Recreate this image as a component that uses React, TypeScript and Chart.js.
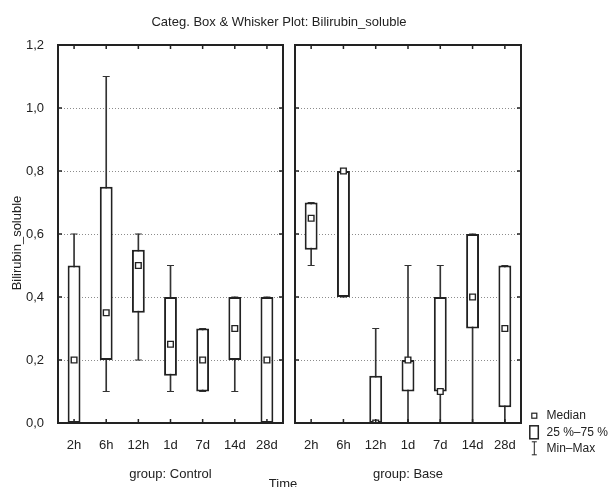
import React, { useEffect, useRef } from 'react';
import { Chart, registerables } from 'chart.js';

Chart.register(...registerables);

// ---------- data ----------
const categories = ['2h', '6h', '12h', '1d', '7d', '14d', '28d'];
const yTickLabels = ['0,0', '0,2', '0,4', '0,6', '0,8', '1,0', '1,2'];
const yTitle = 'Bilirubin_soluble';

const controlMin = [0, 0.1, 0.2, 0.1, 0.1, 0.1, 0];
const controlQ1 = [0, 0.2, 0.35, 0.15, 0.1, 0.2, 0];
const controlMedian = [0.2, 0.35, 0.5, 0.25, 0.2, 0.3, 0.2];
const controlQ3 = [0.5, 0.75, 0.55, 0.4, 0.3, 0.4, 0.4];
const controlMax = [0.6, 1.1, 0.6, 0.5, 0.3, 0.4, 0.4];

const baseMin = [0.5, 0.4, 0, 0, 0, 0, 0];
const baseQ1 = [0.55, 0.4, 0, 0.1, 0.1, 0.3, 0.05];
const baseMedian = [0.65, 0.8, 0, 0.2, 0.1, 0.4, 0.3];
const baseQ3 = [0.7, 0.8, 0.15, 0.2, 0.4, 0.6, 0.5];
const baseMax = [0.7, 0.8, 0.3, 0.5, 0.5, 0.6, 0.5];

const legendLabels = ['Median', '25 %\u201375 %', 'Min\u2013Max'];

// ---------- style ----------
const FONT = "'Liberation Sans', Arial, sans-serif";
const INK = '#222';
const WHISKER = '#333';

const framePlugin = {
  id: 'frame',
  beforeDatasetsDraw(chart: any) {
    const { ctx, chartArea: a, scales } = chart;
    const y = scales.y;
    ctx.save();
    ctx.strokeStyle = '#8c8c8c';
    ctx.lineWidth = 1;
    ctx.setLineDash([1, 2]);
    y.ticks.forEach((t: any) => {
      if (t.value <= 1e-9 || t.value >= 1.2 - 1e-9) return;
      const py = Math.round(y.getPixelForValue(t.value)) + 0.5;
      ctx.beginPath();
      ctx.moveTo(a.left, py);
      ctx.lineTo(a.right, py);
      ctx.stroke();
    });
    ctx.restore();
  },
  afterDatasetsDraw(chart: any) {
    const { ctx, chartArea: a, scales } = chart;
    const x = scales.x;
    const y = scales.y;
    ctx.save();
    ctx.strokeStyle = INK;
    ctx.lineWidth = 1.5;
    const tl = 4;
    y.ticks.forEach((t: any) => {
      const py = y.getPixelForValue(t.value);
      ctx.beginPath();
      ctx.moveTo(a.left, py);
      ctx.lineTo(a.left + tl, py);
      ctx.moveTo(a.right, py);
      ctx.lineTo(a.right - tl, py);
      ctx.stroke();
    });
    categories.forEach((_, i) => {
      const px = x.getPixelForValue(i);
      ctx.beginPath();
      ctx.moveTo(px, a.top);
      ctx.lineTo(px, a.top + tl);
      ctx.moveTo(px, a.bottom);
      ctx.lineTo(px, a.bottom - tl);
      ctx.stroke();
    });
    ctx.lineWidth = 2;
    ctx.strokeRect(a.left, a.top, a.right - a.left, a.bottom - a.top);
    ctx.restore();
  },
};

const yTitlePlugin = {
  id: 'yTitle',
  afterDraw(chart: any) {
    const { ctx, chartArea: a } = chart;
    ctx.save();
    ctx.translate(17, (a.top + a.bottom) / 2 + 9);
    ctx.rotate(-Math.PI / 2);
    ctx.fillStyle = INK;
    ctx.font = `13px ${FONT}`;
    ctx.textAlign = 'center';
    ctx.textBaseline = 'middle';
    ctx.fillText(yTitle, 0, 0);
    ctx.restore();
  },
};

const legendPlugin = {
  id: 'boxLegend',
  afterDraw(chart: any) {
    const { ctx } = chart;
    const ix = 245.3;
    const tx = 257.5;
    const ys = [415.7, 432.3, 448.3];
    ctx.save();
    ctx.strokeStyle = INK;
    ctx.fillStyle = '#fff';
    ctx.lineWidth = 1.2;
    ctx.fillRect(ix - 2.5, ys[0] - 2.5, 5, 5);
    ctx.strokeRect(ix - 2.5, ys[0] - 2.5, 5, 5);
    ctx.lineWidth = 1.5;
    ctx.strokeRect(ix - 4.5, ys[1] - 6.5, 8.5, 13);
    ctx.lineWidth = 1;
    ctx.beginPath();
    ctx.moveTo(ix, ys[2] - 6.5);
    ctx.lineTo(ix, ys[2] + 6.5);
    ctx.moveTo(ix - 2.5, ys[2] - 6.5);
    ctx.lineTo(ix + 2.5, ys[2] - 6.5);
    ctx.moveTo(ix - 2.5, ys[2] + 6.5);
    ctx.lineTo(ix + 2.5, ys[2] + 6.5);
    ctx.stroke();
    ctx.fillStyle = INK;
    ctx.font = `12px ${FONT}`;
    ctx.textBaseline = 'middle';
    ctx.textAlign = 'left';
    legendLabels.forEach((t, i) => ctx.fillText(t, tx, ys[i]));
    ctx.restore();
  },
};

type PanelProps = {
  width: number;
  padLeft: number;
  padRight: number;
  yWidth: number;
  showY: boolean;
  group: string;
  mins: number[];
  q1: number[];
  med: number[];
  q3: number[];
  maxs: number[];
  legend?: boolean;
};

function Panel(p: PanelProps) {
  const ref = useRef<HTMLCanvasElement>(null);
  useEffect(() => {
    if (!ref.current) return;
    const font = { family: FONT, size: 13 };
    const capStyle = {
      type: 'line' as const,
      showLine: false,
      pointStyle: 'line',
      pointRadius: 3.5,
      pointHoverRadius: 3.5,
      pointBorderWidth: 1,
      pointBorderColor: WHISKER,
      borderColor: WHISKER,
      order: 2,
    };
    const plugins: any[] = [framePlugin];
    if (p.showY) plugins.push(yTitlePlugin);
    if (p.legend) plugins.push(legendPlugin);
    const chart = new Chart(ref.current, {
      type: 'bar',
      data: {
        labels: categories,
        datasets: [
          {
            type: 'line',
            label: 'Median',
            data: p.med,
            showLine: false,
            pointStyle: 'rect',
            pointRadius: 4,
            pointHoverRadius: 4,
            pointBorderWidth: 1.4,
            pointBackgroundColor: '#fff',
            pointBorderColor: INK,
            borderColor: INK,
            order: 0,
          } as any,
          {
            type: 'bar',
            label: '25%-75%',
            data: p.q1.map((v, i) => [v, p.q3[i]]),
            backgroundColor: '#fff',
            borderColor: INK,
            borderWidth: 2,
            borderSkipped: false,
            barPercentage: 0.4,
            categoryPercentage: 1,
            grouped: false,
            order: 1,
          } as any,
          { ...capStyle, label: 'Max', data: p.maxs } as any,
          { ...capStyle, label: 'Min', data: p.mins } as any,
          {
            type: 'bar',
            label: 'Min-Max',
            data: p.mins.map((v, i) => [v, p.maxs[i]]),
            backgroundColor: WHISKER,
            borderWidth: 0,
            barThickness: 1,
            grouped: false,
            order: 3,
          } as any,
        ],
      },
      options: {
        responsive: false,
        animation: false,
        devicePixelRatio: 1,
        layout: { padding: { top: 45, bottom: 0, left: p.padLeft, right: p.padRight } },
        plugins: {
          legend: { display: false },
          tooltip: { enabled: false },
          title: { display: false },
        },
        scales: {
          x: {
            offset: true,
            grid: { display: false },
            border: { display: false },
            ticks: { font, color: INK, padding: 7, maxRotation: 0, autoSkip: false },
            title: { display: true, text: p.group, font, color: INK, padding: { top: 0, bottom: 5 } },
            afterFit: (s: any) => {
              s.height = 64;
            },
          },
          y: {
            min: 0,
            max: 1.2,
            grid: { display: false },
            border: { display: false },
            ticks: {
              display: p.showY,
              stepSize: 0.2,
              font,
              color: INK,
              padding: 6,
              callback: (_v: any, i: number) => yTickLabels[i],
            },
            title: { display: false },
            afterFit: (s: any) => {
              s.width = p.yWidth;
            },
          },
        } as any,
      },
      plugins,
    });
    return () => chart.destroy();
  }, []);
  return <canvas ref={ref} width={p.width} height={487} style={{ width: p.width, height: 487, display: 'block' }} />;
}

export default function App() {
  const textStyle: React.CSSProperties = {
    position: 'absolute',
    fontFamily: FONT,
    fontSize: 13,
    lineHeight: '15px',
    color: INK,
    whiteSpace: 'nowrap',
  };
  return (
    <div
      style={{
        position: 'absolute',
        left: 0,
        top: 0,
        width: 613,
        height: 487,
        overflow: 'hidden',
        background: '#fff',
      }}
    >
      <div style={{ position: 'absolute', left: 0, top: 0 }}>
        <Panel
          width={289}
          padLeft={0}
          padRight={6}
          yWidth={58}
          showY={true}
          group="group: Control"
          mins={controlMin}
          q1={controlQ1}
          med={controlMedian}
          q3={controlQ3}
          maxs={controlMax}
        />
      </div>
      <div style={{ position: 'absolute', left: 289, top: 0 }}>
        <Panel
          width={324}
          padLeft={6}
          padRight={92}
          yWidth={0}
          showY={false}
          group="group: Base"
          mins={baseMin}
          q1={baseQ1}
          med={baseMedian}
          q3={baseQ3}
          maxs={baseMax}
          legend={true}
        />
      </div>
      <div style={{ ...textStyle, left: 0, width: 558, top: 14, textAlign: 'center' }}>
        Categ. Box &amp; Whisker Plot: Bilirubin_soluble
      </div>
      <div style={{ ...textStyle, left: 0, width: 566, top: 476, textAlign: 'center' }}>Time</div>
    </div>
  );
}
